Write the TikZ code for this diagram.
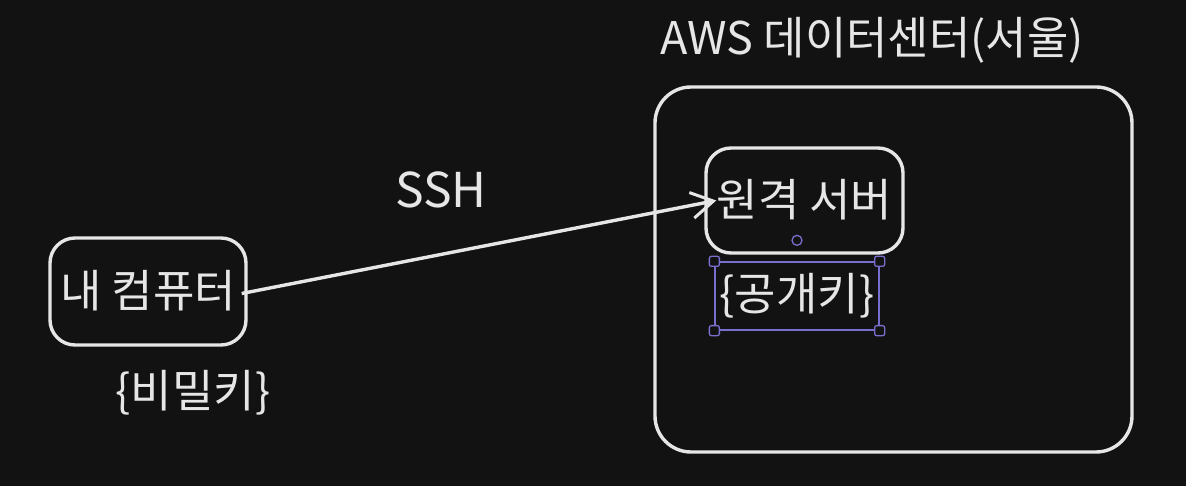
\documentclass[tikz,border=0pt]{standalone}
\usepackage{fontspec}
\setmainfont{Noto Sans CJK KR}
\usetikzlibrary{arrows.meta}
\definecolor{bg}{RGB}{18,18,18}
\definecolor{ink}{RGB}{230,230,230}
\definecolor{selc}{RGB}{120,110,205}
\tikzset{
  sketchbox/.style={draw=ink,line width=3.4pt,rounded corners=#1,inner sep=0pt},
  txt/.style={text=ink,inner sep=0pt,font=\fontsize{45}{54}\selectfont},
  handle/.style={draw=selc,fill=bg,line width=1.3pt,rounded corners=2pt,
    minimum size=10pt,inner sep=0pt},
}
\begin{document}
\begin{tikzpicture}[x=1pt,y=-1pt]
\fill[bg] (0,0) rectangle (1186,486);
\useasboundingbox (0,0) rectangle (1186,486);
% my computer side
\node[sketchbox=25pt,minimum width=196pt,minimum height=107pt] (pc) at (148,291.5) {};
\node[txt] (pcname) at ([yshift=1pt]pc.center) {내 컴퓨터};
\node[txt] (privkey) at (193,393) {\{비밀키\}};
% data center
\node[sketchbox=36pt,minimum width=477pt,minimum height=365pt] (dc) at (893.5,269.5) {};
\node[txt] (dcname) at (872,40) {AWS 데이터센터(서울)};
\node[sketchbox=25pt,minimum width=197pt,minimum height=105pt] (srv) at (804.5,200.5) {};
\node[txt] (srvname) at ([yshift=1pt]srv.center) {원격 서버};
% selected text
\node[draw=selc,line width=1.3pt,minimum width=164pt,minimum height=68pt,inner sep=0pt]
  (sel) at (797,296) {};
\node[txt] (pubkey) at (sel.center) {\{공개키\}};
\foreach \c in {north west,north east,south west,south east}
  \node[handle] at (sel.\c) {};
\node[circle,draw=selc,line width=1.3pt,minimum size=10pt,inner sep=0pt] (rot)
  at ([yshift=21pt]sel.north) {};
% connection
\node[txt,font=\fontsize{48}{56}\selectfont] (ssh) at (441,190) {SSH};
\draw[ink,line width=3.4pt,-{Straight Barb[length=22pt,width=26pt,line width=3pt]}]
  ([xshift=-6pt,yshift=-2pt]pc.east) -- ([xshift=12pt]srv.west);
\end{tikzpicture}
\end{document}
